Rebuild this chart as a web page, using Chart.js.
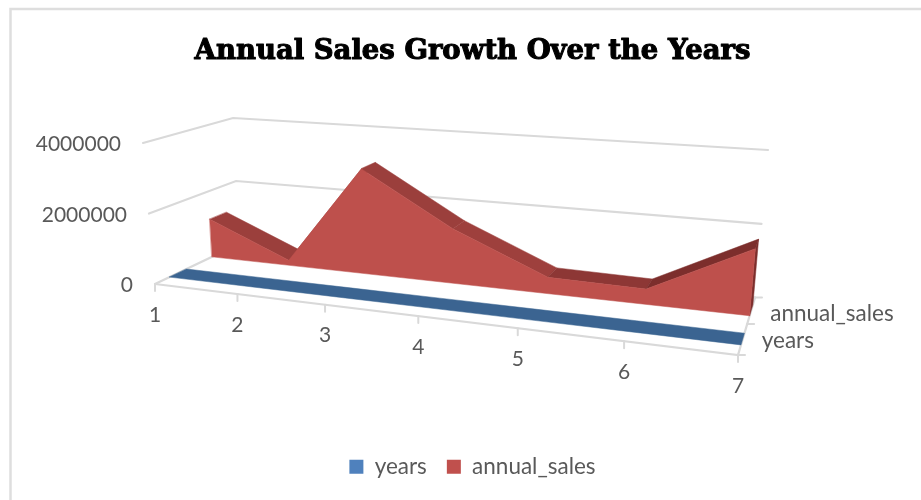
<!DOCTYPE html>
<html>
<head>
<meta charset="utf-8">
<title>Annual Sales Growth Over the Years</title>
<style>
  html, body { margin: 0; padding: 0; background: #fff; overflow: hidden; }
  canvas { display: block; }
</style>
<script src="https://cdn.jsdelivr.net/npm/chart.js@4/dist/chart.umd.min.js"></script>
</head>
<body>
<canvas id="salesChart" width="921" height="500"></canvas>
<script>
// Chart values
const categories = ['1', '2', '3', '4', '5', '6', '7'];
const years = [1, 2, 3, 4, 5, 6, 7];
const annualSales = [1150000, 150000, 3050000, 1550000, 450000, 410000, 1750000];
const valueTicks = [0, 2000000, 4000000];

// Corners of the 3D box on screen, [front-left, front-right, back-right, back-left]
const FLOOR = [[155, 284], [738, 355], [755, 297.6], [239, 244]];
const ROOF = [[143, 143], [751, 190], [768, 150], [233, 118]];

// Depth bands of the two series along the depth axis
const BAND_YEARS = [0.155, 0.345];
const BAND_SALES = [0.65, 0.86];

const GRID = '#d9d9d9';
const TEXT = '#595959';
const NUMBER_FONT = '21px Lato';
const NAME_FONT = '22.5px Lato';
// shade of the top face between each pair of categories
const TOP_SHADES = ['#9b3f3c', '#9b3f3c', '#9b3f3c', '#9e403d', '#8d3735', '#7c2e2c'];

function squareToQuad(q) {
    const [p0, p1, p2, p3] = q;
    const dx1 = p1[0] - p2[0], dx2 = p3[0] - p2[0], sx = p0[0] - p1[0] + p2[0] - p3[0];
    const dy1 = p1[1] - p2[1], dy2 = p3[1] - p2[1], sy = p0[1] - p1[1] + p2[1] - p3[1];
    const det = dx1 * dy2 - dx2 * dy1;
    const g = (sx * dy2 - dx2 * sy) / det;
    const h = (dx1 * sy - sx * dy1) / det;
    const a = p1[0] - p0[0] + g * p1[0], b = p3[0] - p0[0] + h * p3[0];
    const d = p1[1] - p0[1] + g * p1[1], e = p3[1] - p0[1] + h * p3[1];
    return (u, t) => {
        const w = 1 + g * u + h * t;
        return [(a * u + b * t + p0[0]) / w, (d * u + e * t + p0[1]) / w];
    };
}

const floorAt = squareToQuad(FLOOR);
const roofAt = squareToQuad(ROOF);

// u along the categories, t along the depth, v up the value axis, all 0..1
function project(u, t, v) {
    const f = floorAt(u, t), r = roofAt(u, t);
    return [f[0] + (r[0] - f[0]) * v, f[1] + (r[1] - f[1]) * v];
}

function polygon(ctx, pts, color) {
    ctx.beginPath();
    pts.forEach((p, i) => i ? ctx.lineTo(p[0], p[1]) : ctx.moveTo(p[0], p[1]));
    ctx.closePath();
    ctx.fillStyle = color;
    ctx.fill();
    // same colour edge closes the hairline seams between faces
    ctx.strokeStyle = color;
    ctx.lineWidth = 0.5;
    ctx.stroke();
}

function polyline(ctx, pts, color, width) {
    ctx.beginPath();
    pts.forEach((p, i) => i ? ctx.lineTo(p[0], p[1]) : ctx.moveTo(p[0], p[1]));
    ctx.strokeStyle = color;
    ctx.lineWidth = width;
    ctx.stroke();
}

// Reads a series through the chart's scales as box coordinates
function seriesCoords(chart, index) {
    const { x, y } = chart.scales;
    return chart.getDatasetMeta(index).data.map(el => ({
        u: x.getDecimalForPixel(el.x),
        v: y.getDecimalForPixel(el.y)
    }));
}

const box3d = {
    id: 'box3d',
    beforeDraw(chart) {
        const ctx = chart.ctx;
        ctx.save();
        ctx.fillStyle = '#fff';
        ctx.fillRect(0, 0, chart.width, chart.height);
        polyline(ctx, [[921, 9], [10.5, 9], [10.5, 500]], '#dedede', 2.5);
        ctx.restore();
    },
    beforeDatasetsDraw(chart) {
        const ctx = chart.ctx;
        const { x, y } = chart.scales;
        const tickV = tick => y.getDecimalForPixel(y.getPixelForValue(tick.value));
        const tickU = i => x.getDecimalForPixel(x.getPixelForTick(i));
        ctx.save();
        ctx.lineCap = 'round';

        // value gridlines across side wall and back wall
        y.ticks.forEach(tick => {
            const v = tickV(tick);
            polyline(ctx, [project(0, 0, v), project(0, 1, v), project(1, 1, v)], GRID, 2.2);
        });

        // floor edges and tick marks
        polyline(ctx, [project(0, 0, 0), project(1, 0, 0), project(1, 1, 0)], GRID, 2.2);
        x.ticks.forEach((tick, i) => {
            const p = project(tickU(i), 0, 0);
            polyline(ctx, [p, [p[0], p[1] + 7]], GRID, 2);
        });
        [0, 0.5, 1].forEach(t => {
            const p = project(1, t, 0);
            polyline(ctx, [p, [p[0] + 7, p[1]]], GRID, 2);
        });

        // annual_sales: top faces, end cap, then front wall
        const sales = seriesCoords(chart, 1);
        const [sf, sb] = BAND_SALES;
        for (let i = 0; i < sales.length - 1; i++) {
            const a = sales[i], b = sales[i + 1];
            polygon(ctx, [project(a.u, sf, a.v), project(b.u, sf, b.v), project(b.u, sb, b.v), project(a.u, sb, a.v)], TOP_SHADES[i]);
        }
        const last = sales[sales.length - 1];
        polygon(ctx, [project(last.u, sf, last.v), project(last.u, sb, last.v), project(last.u, sb, 0), project(last.u, sf, 0)], '#7c2e2c');
        polygon(ctx, [
            ...sales.map(p => project(p.u, sf, p.v)),
            project(last.u, sf, 0),
            project(sales[0].u, sf, 0)
        ], '#be504c');

        // years: values are tiny on this scale, only the top face shows
        const yrs = seriesCoords(chart, 0);
        const [yf, yb] = BAND_YEARS;
        polygon(ctx, [
            ...yrs.map(p => project(p.u, yf, p.v)),
            ...yrs.slice().reverse().map(p => project(p.u, yb, p.v))
        ], '#3b6491');

        // axis labels follow the projected box
        ctx.fillStyle = TEXT;
        ctx.textBaseline = 'middle';
        ctx.font = NUMBER_FONT;
        ctx.textAlign = 'right';
        y.ticks.forEach(tick => {
            const p = project(0, 0, tickV(tick));
            ctx.fillText(tick.label, p[0] - 22, p[1] + 1.5);
        });
        ctx.textAlign = 'center';
        x.ticks.forEach((tick, i) => {
            const p = project(tickU(i), 0, 0);
            ctx.fillText(tick.label, p[0], p[1] + 31);
        });
        ctx.font = NAME_FONT;
        ctx.textAlign = 'left';
        chart.data.datasets.forEach((ds, i) => {
            const t = i === 0 ? 0.25 : 0.75;
            const p = project(1, t, 0);
            ctx.fillText(ds.label, p[0] + 19, p[1] + (i === 0 ? 2 : 3));
        });
        ctx.restore();
    },
    afterDraw(chart) {
        // the title face needs to sit heavier than the bold weight alone
        const ctx = chart.ctx;
        const title = chart.titleBlock;
        const font = title.options.font;
        ctx.save();
        ctx.font = `${font.weight} ${font.size}px ${font.family}`;
        ctx.textAlign = 'center';
        ctx.textBaseline = 'middle';
        ctx.strokeStyle = title.options.color;
        ctx.lineWidth = 1.1;
        ctx.lineJoin = 'round';
        ctx.strokeText(title.options.text, (title.left + title.right) / 2, title.top + title.options.padding.top + title.height / 2 - title.options.padding.bottom / 2);
        ctx.restore();
    }
};

new Chart(document.getElementById('salesChart'), {
    type: 'line',
    plugins: [box3d],
    data: {
        labels: categories,
        datasets: [
            { label: 'years', data: years, backgroundColor: '#4f81bd', borderColor: '#4f81bd', borderWidth: 0, showLine: false, pointRadius: 0 },
            { label: 'annual_sales', data: annualSales, backgroundColor: '#c0504d', borderColor: '#c0504d', borderWidth: 0, showLine: false, pointRadius: 0 }
        ]
    },
    options: {
        responsive: false,
        animation: false,
        layout: { padding: { top: 35, bottom: 12, left: 24 } },
        plugins: {
            tooltip: { enabled: false },
            title: {
                display: true,
                text: 'Annual Sales Growth Over the Years',
                color: '#000',
                font: { family: '"DejaVu Serif"', weight: 'bold', size: 27.5 },
                padding: { top: 0, bottom: 10 }
            },
            legend: {
                position: 'bottom',
                labels: {
                    boxWidth: 14,
                    boxHeight: 14,
                    color: TEXT,
                    padding: 20,
                    font: { family: 'Lato', size: 22.5 }
                }
            }
        },
        scales: {
            x: {
                offset: false,
                grid: { display: false },
                border: { display: false },
                ticks: { display: false, autoSkip: false }
            },
            y: {
                min: valueTicks[0],
                max: valueTicks[valueTicks.length - 1],
                afterBuildTicks: axis => { axis.ticks = valueTicks.map(value => ({ value })); },
                grid: { display: false },
                border: { display: false },
                ticks: { display: false, callback: v => String(v) }
            }
        }
    }
});
</script>
</body>
</html>
